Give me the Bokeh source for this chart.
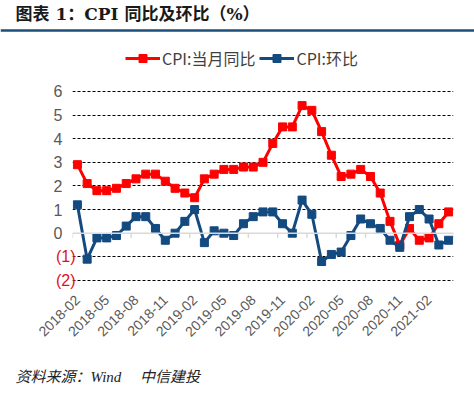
import math
from bokeh.plotting import figure
from bokeh.layouts import column
from bokeh.models import (FixedTicker, Span, Legend, LegendItem, Label, LinearAxis,
                          ColumnDataSource, Range1d)
from bokeh.embed import file_html
from bokeh.resources import INLINE

months = ["2018-02", "2018-03", "2018-04", "2018-05", "2018-06", "2018-07", "2018-08",
          "2018-09", "2018-10", "2018-11", "2018-12", "2019-01", "2019-02", "2019-03",
          "2019-04", "2019-05", "2019-06", "2019-07", "2019-08", "2019-09", "2019-10",
          "2019-11", "2019-12", "2020-01", "2020-02", "2020-03", "2020-04", "2020-05",
          "2020-06", "2020-07", "2020-08", "2020-09", "2020-10", "2020-11", "2020-12",
          "2021-01", "2021-02", "2021-03", "2021-04"]
cpi_yoy = [2.9, 2.1, 1.8, 1.8, 1.9, 2.1, 2.3, 2.5, 2.5, 2.2, 1.9, 1.7, 1.5, 2.3,
           2.5, 2.7, 2.7, 2.8, 2.8, 3.0, 3.8, 4.5, 4.5, 5.4, 5.2, 4.3, 3.3, 2.4,
           2.5, 2.7, 2.4, 1.7, 0.5, -0.5, 0.2, -0.3, -0.2, 0.4, 0.9]
cpi_mom = [1.2, -1.1, -0.2, -0.2, -0.1, 0.3, 0.7, 0.7, 0.2, -0.3, 0.0, 0.5, 1.0, -0.4,
           0.1, 0.0, -0.1, 0.4, 0.7, 0.9, 0.9, 0.4, 0.0, 1.4, 0.8, -1.2, -0.9, -0.8,
           -0.1, 0.6, 0.4, 0.2, -0.3, -0.6, 0.7, 1.0, 0.6, -0.5, -0.3]
tick_labels = ["2018-02", "2018-05", "2018-08", "2018-11", "2019-02", "2019-05", "2019-08",
               "2019-11", "2020-02", "2020-05", "2020-08", "2020-11", "2021-02"]
y_ticks = [-2, -1, 0, 1, 2, 3, 4, 5, 6]
y_tick_labels = ["(2)", "(1)", "0", "1", "2", "3", "4", "5", "6"]
series_names = ["CPI:当月同比", "CPI:环比"]
title_text = "图表 1：CPI 同比及环比（%）"
source_text = "资料来源：Wind　 中信建投"

RED = "#FF0000"
BLUE = "#134A80"
CJK = "Noto Sans CJK SC"
W = 474

# ---------- header: title and blue rule ----------
hdr = figure(width=W, height=36, output_backend="svg", toolbar_location=None,
             x_range=Range1d(0, W), y_range=Range1d(36, 0),
             x_axis_type=None, y_axis_type=None, min_border=0, frame_align=False)
hdr.outline_line_color = None
hdr.xgrid.visible = False
hdr.ygrid.visible = False
hdr.add_layout(Label(x=15, y=13.5, text=title_text, text_align="left",
                     text_baseline="middle",
                     text_font="DejaVu Serif, Noto Sans CJK SC",
                     text_font_size="17px", text_font_style="bold",
                     text_color="#1a1a1a"))
hdr.add_layout(Span(location=30, dimension="width", line_color="#1F4E79", line_width=2.5))

# ---------- main chart ----------
idx = list(range(len(months)))
src = ColumnDataSource(dict(x=idx, yoy=cpi_yoy, mom=cpi_mom))

p = figure(width=W, height=326, output_backend="svg", toolbar_location=None,
           x_range=(-0.5, len(months) - 0.5), y_range=(-2.215, 8.03),
           min_border_left=72, min_border_right=21, min_border_top=7,
           min_border_bottom=77, frame_align=False)
p.outline_line_color = None

pos_map = {months.index(t): t for t in tick_labels}
p.xaxis.ticker = FixedTicker(ticks=sorted(pos_map.keys()))
p.xaxis.major_label_overrides = pos_map
p.xaxis.major_label_orientation = math.pi / 4
p.xaxis.axis_line_color = None
p.xaxis.major_tick_line_color = None
p.xaxis.minor_tick_line_color = None
p.xaxis.major_tick_out = 0
p.xaxis.major_tick_in = 0
p.xaxis.major_label_standoff = 12
p.xaxis.major_label_text_font = "Liberation Sans"
p.xaxis.major_label_text_font_size = "14px"
p.xaxis.major_label_text_color = "#595959"

neg = [t for t in y_ticks if t < 0]
pos = [t for t in y_ticks if t >= 0]
lab = dict(zip(y_ticks, y_tick_labels))
# default left axis: grey non-negative labels
ya = p.yaxis[0]
ya.ticker = FixedTicker(ticks=pos)
ya.major_label_overrides = {t: lab[t] for t in pos}
ya.major_label_text_color = "#595959"
# second left axis: red negative labels
yb = LinearAxis(ticker=FixedTicker(ticks=neg),
                major_label_overrides={t: lab[t] for t in neg})
yb.major_label_text_color = "#E0101E"
p.add_layout(yb, "left")
for ax, st in ((ya, 10), (yb, -25)):
    ax.axis_line_color = None
    ax.major_tick_line_color = None
    ax.minor_tick_line_color = None
    ax.major_tick_out = 0
    ax.major_tick_in = 0
    ax.major_label_standoff = st
    ax.major_label_text_font = "Liberation Sans"
    ax.major_label_text_font_size = "16px"

p.xgrid.grid_line_color = None
p.ygrid.ticker = FixedTicker(ticks=[t for t in y_ticks if t != 0])
p.ygrid.grid_line_color = "#000000"
p.ygrid.grid_line_width = 1
p.ygrid.grid_line_dash = "3 2"

p.add_layout(Span(location=0, dimension="width", line_color="#D9D9D9", line_width=1.5))
tx = [i - 0.5 for i in range(0, len(months) + 1, 3)]
p.segment(x0=tx, y0=[0] * len(tx), x1=tx, y1=[-0.2] * len(tx), line_color="#D9D9D9",
          line_width=1.5)

l1 = p.line("x", "yoy", source=src, line_color=RED, line_width=3)
s1 = p.scatter("x", "yoy", source=src, marker="square", size=8, fill_color=RED,
               line_color=RED)
l2 = p.line("x", "mom", source=src, line_color=BLUE, line_width=3)
s2 = p.scatter("x", "mom", source=src, marker="square", size=8, fill_color=BLUE,
               line_color=BLUE)

legend = Legend(items=[LegendItem(label=series_names[0], renderers=[l1, s1]),
                       LegendItem(label=series_names[1], renderers=[l2, s2])],
                location=(53, 215), orientation="horizontal",
                glyph_width=35, glyph_height=20, label_height=20, label_standoff=2,
                spacing=4, padding=0, margin=0, border_line_color=None,
                background_fill_alpha=0, label_text_font=CJK,
                label_text_font_size="16px", label_text_color="#404040")
p.add_layout(legend)

# ---------- footer: source ----------
ftr = figure(width=W, height=35, output_backend="svg", toolbar_location=None,
             x_range=Range1d(0, W), y_range=Range1d(35, 0),
             x_axis_type=None, y_axis_type=None, min_border=0, frame_align=False)
ftr.outline_line_color = None
ftr.xgrid.visible = False
ftr.ygrid.visible = False
ftr.add_layout(Label(x=15, y=14, text=source_text, text_align="left",
                     text_baseline="middle",
                     text_font="Liberation Serif, Noto Sans CJK SC",
                     text_font_size="15px", text_font_style="italic",
                     text_color="#222222"))

layout = column(hdr, p, ftr, spacing=0)
open("out.html", "w").write(file_html(layout, INLINE))
